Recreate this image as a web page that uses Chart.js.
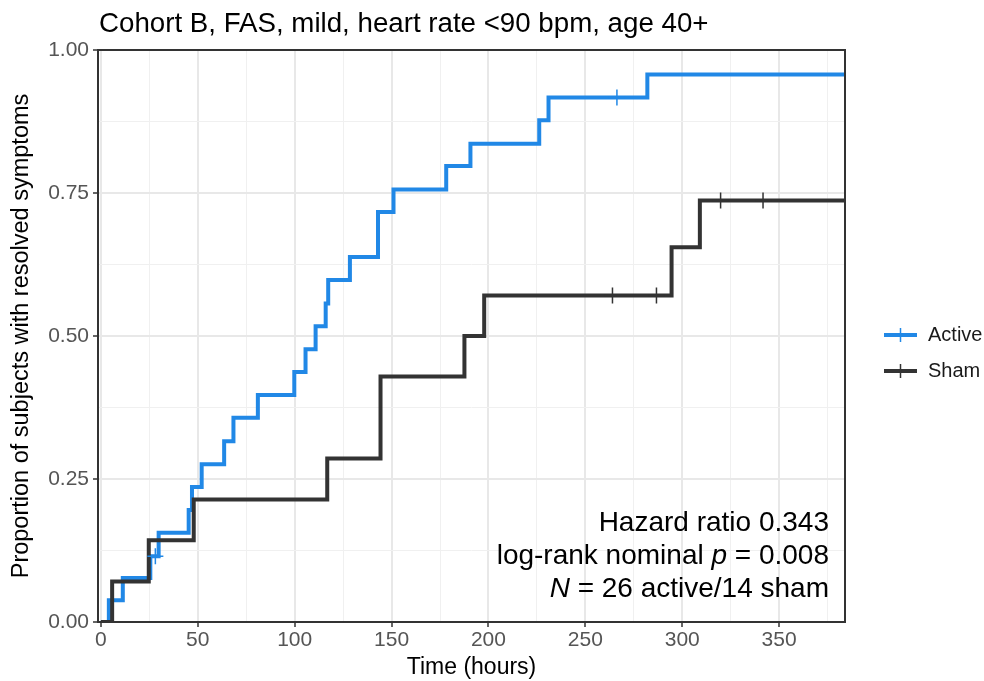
<!DOCTYPE html>
<html lang="en">
<head>
    <meta charset="utf-8">
    <title>Cohort B, FAS, mild, heart rate &lt;90 bpm, age 40+</title>
    <script src="https://cdn.jsdelivr.net/npm/chart.js@4.4.1/dist/chart.umd.min.js"></script>
    <style>
        html, body {
            margin: 0;
            padding: 0;
            background: #fff;
        }

        .chartBox {
            width: 984px;
            height: 681px;
        }
    </style>
</head>
<body>

    <div class="chartBox">
        <canvas id="kmChart" width="984" height="681"></canvas>
    </div>

    <script>
        // Kaplan-Meier steps (time in hours, proportion resolved)
        var activeTimes = [0, 4.1, 11.3, 25.5, 29.8, 45.3, 47.0, 52.0, 63.6, 68.4, 81.0, 99.8, 105.6, 110.8, 116.0, 117.3, 128.5, 143.0, 151.0, 178.2, 190.7, 226.2, 231.0, 282.0, 384];
        var activeValues = [0, 0.038, 0.077, 0.115, 0.156, 0.196, 0.236, 0.276, 0.316, 0.357, 0.397, 0.437, 0.477, 0.517, 0.557, 0.598, 0.638, 0.717, 0.756, 0.797, 0.836, 0.877, 0.917, 0.957, 0.957];

        var shamTimes = [0, 5.8, 24.7, 47.9, 116.8, 144.3, 187.6, 197.8, 294.5, 309.1, 384];
        var shamValues = [0, 0.071, 0.143, 0.214, 0.286, 0.429, 0.500, 0.571, 0.655, 0.737, 0.737];

        // censored subjects (+ marks)
        var activeCensorTimes = [28.1, 266.3];
        var activeCensorValues = [0.115, 0.917];
        var shamCensorTimes = [264.0, 286.7, 319.8, 341.7];
        var shamCensorValues = [0.571, 0.571, 0.737, 0.737];

        // axis ticks
        var xGridTicks = [0, 25, 50, 75, 100, 125, 150, 175, 200, 225, 250, 275, 300, 325, 350, 375];
        var xLabelTicks = [0, 50, 100, 150, 200, 250, 300, 350];
        var yGridTicks = [0, 0.125, 0.25, 0.375, 0.5, 0.625, 0.75, 0.875, 1];
        var yLabelTicks = [0, 0.25, 0.5, 0.75, 1];

        var seriesNames = ["Active", "Sham"];
        var statLines = ["Hazard ratio 0.343", "log-rank nominal p = 0.008", "N = 26 active/14 sham"];

        var blue = "#2188e6";
        var dark = "#333333";
        var fontName = "'Liberation Sans', Arial, sans-serif";

        function toPoints(xs, ys) {
            var pts = [];
            for (var i = 0; i < xs.length; i++) {
                pts.push({ x: xs[i], y: ys[i] });
            }
            return pts;
        }

        function isLabelTick(list, v) {
            for (var i = 0; i < list.length; i++) {
                if (Math.abs(list[i] - v) < 1e-9) return true;
            }
            return false;
        }

        // title, panel border, legend and the statistics text
        var decorPlugin = {
            id: "decor",
            afterDraw: function (chart) {
                var ctx = chart.ctx;
                var a = chart.chartArea;
                ctx.save();

                ctx.strokeStyle = dark;
                ctx.lineWidth = 2;
                ctx.strokeRect(a.left, a.top, a.right - a.left, a.bottom - a.top);

                ctx.fillStyle = "#000";
                ctx.textBaseline = "alphabetic";
                ctx.textAlign = "left";
                ctx.font = "27.7px " + fontName;
                ctx.fillText("Cohort B, FAS, mild, heart rate <90 bpm, age 40+", 99, 32);

                // legend
                var legendY = [335, 371];
                var colors = [blue, dark];
                for (var i = 0; i < 2; i++) {
                    ctx.strokeStyle = colors[i];
                    ctx.lineWidth = 4;
                    ctx.beginPath();
                    ctx.moveTo(884, legendY[i]);
                    ctx.lineTo(917, legendY[i]);
                    ctx.stroke();
                    ctx.lineWidth = 1.5;
                    ctx.beginPath();
                    ctx.moveTo(900.5, legendY[i] - 7);
                    ctx.lineTo(900.5, legendY[i] + 7);
                    ctx.stroke();
                    ctx.fillStyle = "#1a1a1a";
                    ctx.font = "20px " + fontName;
                    ctx.textBaseline = "middle";
                    ctx.fillText(seriesNames[i], 928, legendY[i]);
                }

                // stats text, right aligned, with italic p and N
                var right = 829;
                var baselines = [531, 564, 597];
                var normal = "28px " + fontName;
                var italic = "italic 28px " + fontName;
                var parts = [
                    [[statLines[0], normal]],
                    [["log-rank nominal ", normal], ["p", italic], [" = 0.008", normal]],
                    [["N", italic], [" = 26 active/14 sham", normal]]
                ];
                ctx.fillStyle = "#000";
                ctx.textBaseline = "alphabetic";
                for (var l = 0; l < parts.length; l++) {
                    var total = 0;
                    for (var k = 0; k < parts[l].length; k++) {
                        ctx.font = parts[l][k][1];
                        total += ctx.measureText(parts[l][k][0]).width;
                    }
                    var x = right - total;
                    for (var k2 = 0; k2 < parts[l].length; k2++) {
                        ctx.font = parts[l][k2][1];
                        ctx.fillText(parts[l][k2][0], x, baselines[l]);
                        x += ctx.measureText(parts[l][k2][0]).width;
                    }
                }
                ctx.restore();
            }
        };

        var ctx = document.getElementById("kmChart").getContext("2d");
        var kmChart = new Chart(ctx, {
            type: "line",
            data: {
                datasets: [{
                    label: "Sham",
                    data: toPoints(shamTimes, shamValues),
                    borderColor: dark,
                    borderWidth: 4,
                    stepped: true,
                    pointRadius: 0,
                    fill: false,
                    order: 1
                }, {
                    label: "Active",
                    data: toPoints(activeTimes, activeValues),
                    borderColor: blue,
                    borderWidth: 4,
                    stepped: true,
                    pointRadius: 0,
                    fill: false,
                    order: 2
                }, {
                    label: "Sham censored",
                    type: "scatter",
                    data: toPoints(shamCensorTimes, shamCensorValues),
                    borderColor: dark,
                    pointStyle: "cross",
                    pointRadius: 8,
                    pointBorderWidth: 1.5,
                    order: 0
                }, {
                    label: "Active censored",
                    type: "scatter",
                    data: toPoints(activeCensorTimes, activeCensorValues),
                    borderColor: blue,
                    pointStyle: "cross",
                    pointRadius: 8,
                    pointBorderWidth: 1.5,
                    order: 0
                }]
            },
            options: {
                responsive: false,
                animation: false,
                layout: {
                    padding: { top: 50, right: 139, bottom: 0, left: 0 }
                },
                plugins: {
                    legend: { display: false },
                    tooltip: { enabled: false },
                    title: { display: false }
                },
                scales: {
                    x: {
                        type: "linear",
                        min: -1.5,
                        max: 384,
                        afterBuildTicks: function (scale) {
                            scale.ticks = xGridTicks.map(function (v) { return { value: v }; });
                        },
                        afterFit: function (scale) {
                            scale.height = 59;
                        },
                        ticks: {
                            autoSkip: false,
                            maxRotation: 0,
                            padding: 1,
                            color: "#555555",
                            font: { family: fontName, size: 21 },
                            callback: function (v) {
                                return isLabelTick(xLabelTicks, v) ? String(v) : "";
                            }
                        },
                        grid: {
                            color: function (c) {
                                return c.tick && isLabelTick(xLabelTicks, c.tick.value) ? "#e8e8e8" : "#f0f0f0";
                            },
                            lineWidth: function (c) {
                                return c.tick && isLabelTick(xLabelTicks, c.tick.value) ? 2 : 1;
                            },
                            tickLength: 5,
                            tickWidth: 1.5,
                            tickColor: function (c) {
                                return c.tick && isLabelTick(xLabelTicks, c.tick.value) ? dark : "rgba(0,0,0,0)";
                            }
                        },
                        border: { display: false },
                        title: {
                            display: true,
                            text: "Time (hours)",
                            color: "#000",
                            font: { family: fontName, size: 23 },
                            padding: { top: 0, bottom: 0 }
                        }
                    },
                    y: {
                        type: "linear",
                        min: 0,
                        max: 1,
                        afterBuildTicks: function (scale) {
                            scale.ticks = yGridTicks.map(function (v) { return { value: v }; });
                        },
                        afterFit: function (scale) {
                            scale.width = 98;
                        },
                        ticks: {
                            autoSkip: false,
                            padding: 4,
                            color: "#555555",
                            font: { family: fontName, size: 21 },
                            callback: function (v) {
                                return isLabelTick(yLabelTicks, v) ? v.toFixed(2) : "";
                            }
                        },
                        grid: {
                            color: function (c) {
                                return c.tick && isLabelTick(yLabelTicks, c.tick.value) ? "#e8e8e8" : "#f0f0f0";
                            },
                            lineWidth: function (c) {
                                return c.tick && isLabelTick(yLabelTicks, c.tick.value) ? 2 : 1;
                            },
                            tickLength: 5,
                            tickWidth: 1.5,
                            tickColor: function (c) {
                                return c.tick && isLabelTick(yLabelTicks, c.tick.value) ? dark : "rgba(0,0,0,0)";
                            }
                        },
                        border: { display: false },
                        title: {
                            display: true,
                            text: "Proportion of subjects with resolved symptoms",
                            color: "#000",
                            font: { family: fontName, size: 23.5 },
                            padding: { top: 7, bottom: 0 }
                        }
                    }
                }
            },
            plugins: [decorPlugin]
        });
    </script>

</body>
</html>
